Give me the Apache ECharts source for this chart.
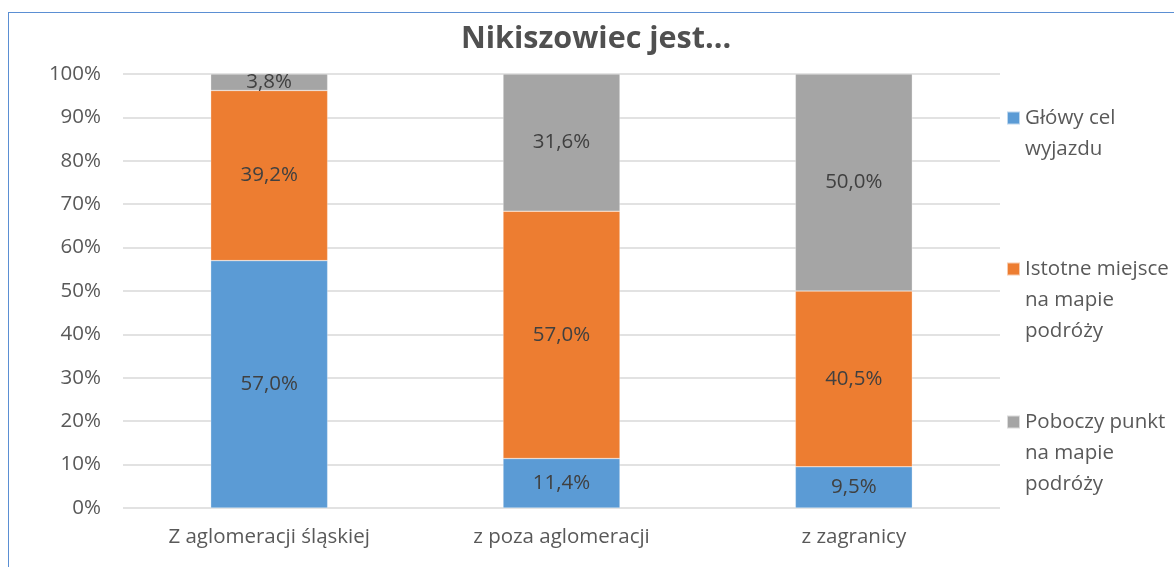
<!DOCTYPE html>
<html>
<head>
<meta charset="utf-8">
<script src="https://cdn.jsdelivr.net/npm/echarts@6/dist/echarts.min.js"></script>
<style>
  html, body { margin: 0; padding: 0; background: #fff; overflow: hidden; }
  #frame { position: absolute; left: 8px; top: 12px; width: 1300px; height: 700px; border: 1px solid #5b8fd3; }
  #chart { position: absolute; left: 0; top: 0; width: 1174px; height: 567px; }
</style>
</head>
<body>
<div id="frame"></div>
<div id="chart"></div>
<script>
// dane
const categories = ['Z aglomeracji śląskiej', 'z poza aglomeracji', 'z zagranicy']
const seriesNames = ['Główy cel wyjazdu', 'Istotne miejsce na mapie podróży', 'Poboczny punkt na mapie podróży']
const glownyCel = [57.0, 11.4, 9.5]
const istotneMiejsce = [39.2, 57.0, 40.5]
const poboczyPunkt = [3.8, 31.6, 50.0]
const yTicks = [0, 10, 20, 30, 40, 50, 60, 70, 80, 90, 100]

// legenda - linie tekstu jak w oryginale
const legendLines = [
  ['Główy cel', 'wyjazdu'],
  ['Istotne miejsce', 'na mapie', 'podróży'],
  ['Poboczy punkt', 'na mapie', 'podróży']
]
const legendIconY = [118, 269, 422]

const font = '"Open Sans", sans-serif'
const colors = ['#5b9bd5', '#ed7d31', '#a5a5a5']
const LINE_H = 31
const FS = 20.5

let myChart = echarts.init(document.getElementById('chart'))

// pusty wiersz(e) na początku, żeby ikona stała przy pierwszej linii
function legendText (lines) {
  let pad = []
  for (let i = 0; i < lines.length - 1; i++) pad.push('')
  return pad.concat(lines).join('\n')
}

let legends = []
for (let i = 0; i < seriesNames.length; i++) {
  let total = (legendLines[i].length * 2 - 1) * LINE_H
  legends.push({
    orient: 'vertical',
    left: 1006,
    top: legendIconY[i] - total / 2,
    padding: 0,
    itemWidth: 13,
    itemHeight: 13,
    itemGap: 6,
    icon: 'rect',
    data: [seriesNames[i]],
    formatter: () => legendText(legendLines[i]),
    textStyle: {
      fontFamily: font,
      fontSize: FS,
      color: '#595959',
      lineHeight: LINE_H
    }
  })
}

function makeSeries (name, data) {
  return {
    name: name,
    type: 'bar',
    stack: 'total',
    barCategoryGap: '60%',
    data: data,
    itemStyle: { borderColor: 'rgba(255,255,255,0.6)', borderWidth: 0.5 },
    label: {
      show: true,
      position: 'inside',
      fontFamily: font,
      fontSize: FS,
      color: '#404040',
      formatter: p => p.value.toFixed(1).replace('.', ',') + '%'
    }
  }
}

let option = {
  color: colors,
  animation: false,
  title: {
    text: 'Nikiszowiec jest...',
    left: 461,
    top: 24,
    padding: 0,
    textStyle: { fontFamily: font, fontSize: 30.5, fontWeight: 'bold', color: '#505050' }
  },
  legend: legends,
  grid: { left: 123, right: 174, top: 74, bottom: 59 },
  xAxis: {
    type: 'category',
    data: categories,
    axisLine: { show: false },
    axisTick: { show: false },
    axisLabel: { fontFamily: font, fontSize: FS, color: '#595959', margin: 19 }
  },
  yAxis: {
    type: 'value',
    min: yTicks[0],
    max: yTicks[yTicks.length - 1],
    interval: 10,
    axisLine: { show: false },
    axisTick: { show: false },
    axisLabel: { fontFamily: font, fontSize: FS, color: '#595959', margin: 22, formatter: '{value}%' },
    splitLine: { lineStyle: { color: '#d9d9d9', width: 1.5 } }
  },
  series: [
    makeSeries(seriesNames[0], glownyCel),
    makeSeries(seriesNames[1], istotneMiejsce),
    makeSeries(seriesNames[2], poboczyPunkt)
  ]
}

option && myChart.setOption(option)
</script>
</body>
</html>
